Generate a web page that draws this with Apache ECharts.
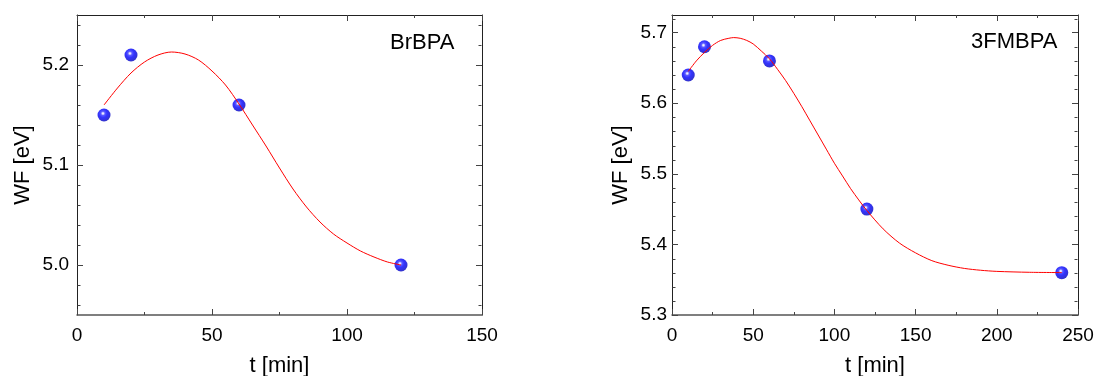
<!DOCTYPE html>
<html>
<head>
<meta charset="utf-8">
<script src="https://cdn.jsdelivr.net/npm/echarts@6/dist/echarts.min.js"></script>
<style>
html,body{margin:0;padding:0;background:#fff;}
#c{width:1095px;height:376px;}
</style>
</head>
<body>
<div id="c"></div>
<script>
// ---- data: BrBPA ----
const tBr = [10, 20, 60, 120];
const wfBr = [5.15, 5.21, 5.16, 5.00];
const fitTBr = [10, 15, 20, 25, 30, 35, 40, 45, 50, 55, 60, 65, 70, 75, 80, 85, 90, 95, 100, 105, 110, 115, 120];
const fitWfBr = [5.160, 5.177, 5.192, 5.203, 5.210, 5.213, 5.211, 5.205, 5.194, 5.180, 5.161, 5.140, 5.119, 5.097, 5.076, 5.058, 5.043, 5.031, 5.022, 5.014, 5.008, 5.003, 5.000];
const yMajorBr = [5.0, 5.1, 5.2];
const yMinorBr = [4.96, 4.98, 5.02, 5.04, 5.06, 5.08, 5.12, 5.14, 5.16, 5.18, 5.22, 5.24];

// ---- data: 3FMBPA ----
const t3F = [10, 20, 60, 120, 240];
const wf3F = [5.64, 5.68, 5.66, 5.45, 5.36];
const fitT3F = [10, 15, 20, 25, 30, 35, 38, 42, 46, 50, 55, 60, 65, 70, 75, 80, 85, 90, 95, 100, 105, 110, 115, 120, 130, 140, 150, 160, 170, 180, 190, 200, 220, 240];
const fitWf3F = [5.645, 5.660, 5.672, 5.682, 5.689, 5.692, 5.693, 5.692, 5.689, 5.684, 5.674, 5.663, 5.648, 5.632, 5.614, 5.595, 5.575, 5.555, 5.535, 5.515, 5.497, 5.479, 5.463, 5.448, 5.422, 5.402, 5.388, 5.377, 5.3705, 5.366, 5.3634, 5.3618, 5.3605, 5.3601];
const yMajor3F = [5.3, 5.4, 5.5, 5.6, 5.7];
const yMinor3F = [5.32, 5.34, 5.36, 5.38, 5.42, 5.44, 5.46, 5.48, 5.52, 5.54, 5.56, 5.58, 5.62, 5.64, 5.66, 5.68, 5.72];

const FONT = 'Liberation Sans, Arial, sans-serif';
const FRAME = '#222';
const TICK = '#444';

function xAxes(gi, max) {
  const common = {
    type: 'value', gridIndex: gi, min: 0, max: max, interval: 50,
    splitLine: {show: false},
    minorTick: {show: true, splitNumber: 2, length: 3, lineStyle: {color: TICK, width: 1}},
    axisTick: {show: true, inside: true, length: 6, lineStyle: {color: TICK, width: 1}}
  };
  return [
    Object.assign({}, common, {
      position: 'bottom',
      axisLine: {show: true, onZero: false, lineStyle: {color: '#555', width: 1.5}},
      axisLabel: {show: true, color: '#000', fontSize: 19, fontFamily: FONT, margin: 11},
      name: 't [min]', nameLocation: 'middle', nameGap: 40, nameMoveOverlap: false,
      nameTextStyle: {color: '#000', fontSize: 22, fontFamily: FONT}
    }),
    Object.assign({}, common, {
      position: 'top',
      axisLine: {show: true, onZero: false, lineStyle: {color: FRAME, width: 1}},
      axisLabel: {show: false}
    })
  ];
}

function yAxes(gi, min, max, major, labelMargin, nameGap) {
  const base = {type: 'value', gridIndex: gi, min: min, max: max, splitLine: {show: false}, scale: true};
  return [
    Object.assign({}, base, {
      position: 'left',
      axisLine: {show: true, onZero: false, lineStyle: {color: FRAME, width: 1}},
      axisTick: {show: true, inside: true, length: 6, customValues: major, lineStyle: {color: TICK}},
      axisLabel: {show: true, customValues: major, color: '#000', fontSize: 19, fontFamily: FONT, margin: labelMargin,
        formatter: v => Number(v).toFixed(1)},
      name: 'WF [eV]', nameLocation: 'middle', nameGap: nameGap, nameMoveOverlap: false,
      nameTextStyle: {color: '#000', fontSize: 22, fontFamily: FONT}
    }),
    Object.assign({}, base, {
      position: 'right',
      axisLine: {show: true, onZero: false, lineStyle: {color: FRAME, width: 1}},
      axisTick: {show: true, inside: true, length: 6, customValues: major, lineStyle: {color: TICK}},
      axisLabel: {show: false}
    })
  ];
}

// minor y ticks (inside, both frame sides) drawn through the y scale
function minorTickSeries(xi, yi, values) {
  return {
    type: 'custom', xAxisIndex: xi, yAxisIndex: yi, silent: true, clip: false, z: 1,
    data: values.map(v => [0, v]),
    encode: {x: 0, y: 1},
    renderItem: function (params, api) {
      const cs = params.coordSys;
      const y = Math.round(api.coord([0, api.value(1)])[1]) + 0.5;
      const xl = Math.round(cs.x) + 0.5, xr = Math.round(cs.x + cs.width) - 0.5;
      return {type: 'group', children: [
        {type: 'line', shape: {x1: xl, y1: y, x2: xl + 3, y2: y}, style: {stroke: TICK, lineWidth: 1}},
        {type: 'line', shape: {x1: xr - 3, y1: y, x2: xr, y2: y}, style: {stroke: TICK, lineWidth: 1}}
      ]};
    }
  };
}

const ball = {
  type: 'radial', x: 0.42, y: 0.38, r: 0.64,
  colorStops: [
    {offset: 0, color: '#ffffff'},
    {offset: 0.1, color: '#d0d0ff'},
    {offset: 0.25, color: '#3030ff'},
    {offset: 0.5, color: '#0000ff'},
    {offset: 1, color: '#0000b8'}
  ]
};

function pairs(xs, ys) { return xs.map((x, i) => [x, ys[i]]); }

const option = {
  animation: false,
  backgroundColor: '#fff',
  grid: [
    {left: 77, top: 15, width: 405, height: 300, outerBoundsMode: 'none', containLabel: false},
    {left: 672, top: 15, width: 406, height: 300, outerBoundsMode: 'none', containLabel: false}
  ],
  xAxis: [].concat(xAxes(0, 150), xAxes(1, 250)),
  yAxis: [].concat(yAxes(0, 4.95, 5.25, yMajorBr, 8, 43), yAxes(1, 5.3, 5.725, yMajor3F, 5, 40)),
  graphic: [
    {type: 'text', left: 390, top: 32, style: {text: 'BrBPA', fontSize: 22, fontFamily: FONT, fill: '#000'}},
    {type: 'text', left: 971, top: 31, style: {text: '3FMBPA', fontSize: 22, fontFamily: FONT, fill: '#000'}}
  ],
  series: [
    minorTickSeries(0, 0, yMinorBr),
    {type: 'scatter', xAxisIndex: 0, yAxisIndex: 0, data: pairs(tBr, wfBr), symbol: 'circle', symbolSize: 13,
      itemStyle: {color: ball}, z: 2},
    {type: 'line', xAxisIndex: 0, yAxisIndex: 0, data: pairs(fitTBr, fitWfBr), smooth: 0.3, showSymbol: false,
      lineStyle: {color: '#ff0000', width: 1}, z: 3},
    minorTickSeries(2, 2, yMinor3F),
    {type: 'scatter', xAxisIndex: 2, yAxisIndex: 2, data: pairs(t3F, wf3F), symbol: 'circle', symbolSize: 13,
      itemStyle: {color: ball}, z: 2},
    {type: 'line', xAxisIndex: 2, yAxisIndex: 2, data: pairs(fitT3F, fitWf3F), smooth: 0.3, showSymbol: false,
      lineStyle: {color: '#ff0000', width: 1}, z: 3}
  ]
};

const chart = echarts.init(document.getElementById('c'), null, {renderer: 'canvas'});
chart.setOption(option);
</script>
</body>
</html>
